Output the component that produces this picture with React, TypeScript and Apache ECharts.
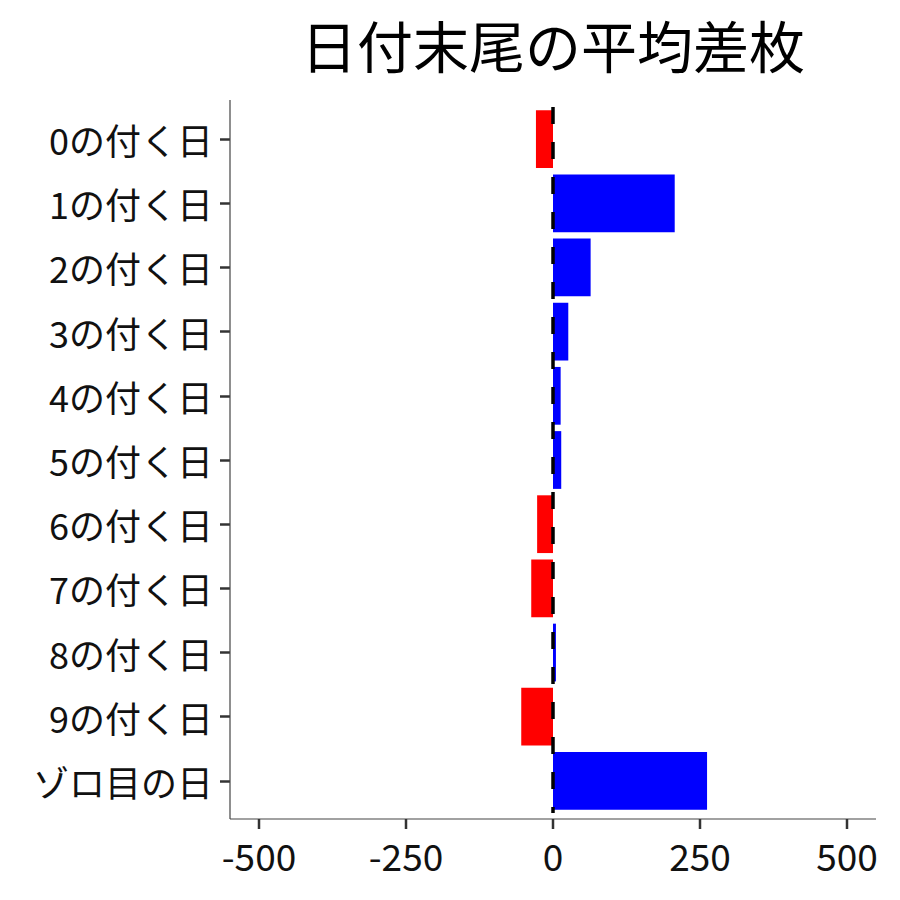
import React, { useEffect, useRef } from "react";
import * as echarts from "echarts";

const titleText = "日付末尾の平均差枚";
const categories = [
  "0の付く日",
  "1の付く日",
  "2の付く日",
  "3の付く日",
  "4の付く日",
  "5の付く日",
  "6の付く日",
  "7の付く日",
  "8の付く日",
  "9の付く日",
  "ゾロ目の日",
];
const diffValues = [-29, 207, 64, 26, 13, 14, -27, -37, 5, -54, 262];
const xTicks = [-500, -250, 0, 250, 500];

const FONT = '"Noto Sans CJK JP", "Noto Sans", sans-serif';

const App = () => {
  const chartRef = useRef<HTMLDivElement>(null);

  useEffect(() => {
    // @ts-ignore
    const chart = echarts.init(chartRef.current, null, { renderer: "svg" });

    const baseGraphic = [
      {
        type: "text",
        x: 553,
        y: 43,
        style: {
          text: titleText,
          fontSize: 56,
          fontFamily: FONT,
          fill: "#000",
          textAlign: "center",
          textVerticalAlign: "middle",
        },
      },
      {
        type: "line",
        z: 100,
        shape: { x1: 230, y1: 100, x2: 230, y2: 819 },
        style: { stroke: "#444", lineWidth: 1.2 },
      },
      {
        type: "line",
        z: 100,
        shape: { x1: 230, y1: 819, x2: 876, y2: 819 },
        style: { stroke: "#444", lineWidth: 1.2 },
      },
    ];

    // -500..500 fills 259..847; the axis lines reach a bit past that (ggplot padding)
    const options = {
      animation: false,
      backgroundColor: "#ffffff",
      grid: { left: 259, right: 53, top: 107, bottom: 87 },
      xAxis: {
        type: "value",
        min: -500,
        max: 500,
        interval: 250,
        offset: 6,
        splitLine: { show: false },
        axisLine: { show: false, onZero: false },
        axisTick: { show: false },
        axisLabel: {
          fontSize: 37,
          fontFamily: FONT,
          color: "#111",
          margin: 17,
        },
      },
      yAxis: {
        type: "category",
        data: categories,
        inverse: true,
        offset: 29,
        axisLine: { show: false, onZero: false },
        axisTick: {
          show: true,
          alignWithLabel: true,
          length: 10,
          lineStyle: { color: "#333", width: 2.5 },
        },
        axisLabel: {
          fontSize: 36,
          fontFamily: FONT,
          color: "#111",
          margin: 17,
        },
      },
      graphic: baseGraphic,
      series: [
        {
          type: "bar",
          barWidth: "90%",
          data: diffValues.map((v) => ({
            value: v,
            itemStyle: { color: v < 0 ? "#ff0000" : "#0000ff" },
          })),
          markLine: {
            silent: true,
            symbol: "none",
            label: { show: false },
            lineStyle: { color: "#000", width: 3.5, type: [17, 18] },
            data: [{ xAxis: 0 }],
          },
        },
      ],
    };

    chart.setOption(options);

    // x ticks placed through the grid's scales, drawn on top
    const tickLines = xTicks.map((v) => {
      const pt: any = chart.convertToPixel({ gridIndex: 0 }, [v, 0]);
      const px = Array.isArray(pt) ? pt[0] : Number(pt);
      return {
        type: "rect",
        z: 100,
        shape: { x: px - 1.25, y: 819, width: 2.5, height: 10 },
        style: { fill: "#333" },
      };
    });
    chart.setOption({ graphic: [...baseGraphic, ...tickLines] });

    return () => {
      chart.dispose();
    };
  }, []);

  return <div ref={chartRef} style={{ width: "900px", height: "900px", margin: "-8px" }} />;
};

export default App;
